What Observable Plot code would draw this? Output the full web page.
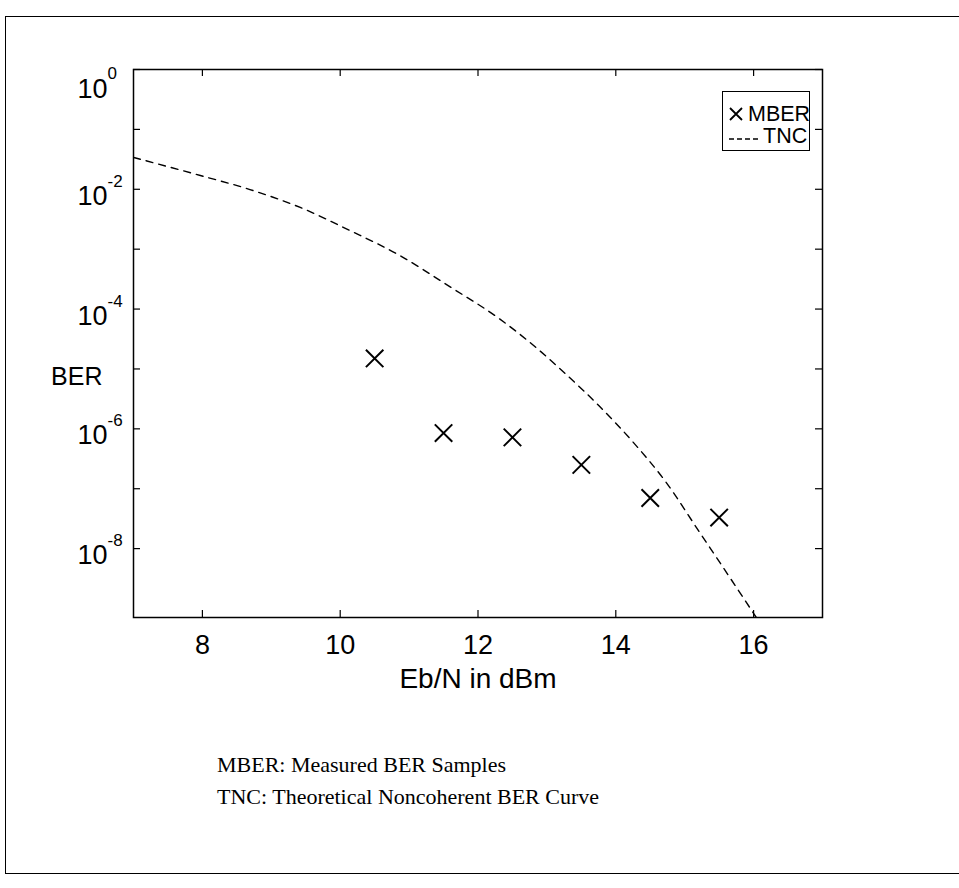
<!DOCTYPE html>
<html>
<head>
<meta charset="utf-8">
<script src="https://cdn.jsdelivr.net/npm/d3@7"></script>
<script src="https://cdn.jsdelivr.net/npm/@observablehq/plot@0.6"></script>
<style>
  html, body { margin: 0; padding: 0; background: #fff; }
  body { width: 959px; height: 888px; position: relative; overflow: hidden;
         font-family: "Liberation Sans", Arial, sans-serif; color: #000; }
  #outer { position: absolute; left: 5px; top: 16px; width: 980px; height: 856px;
           border-left: 1.5px solid #000; border-top: 1.5px solid #000; border-bottom: 1.5px solid #000; }
  #chart { position: absolute; left: 0; top: 0; }
  #legend { position: absolute; left: 722px; top: 91px; width: 86px; height: 58px;
            border: 1.5px solid #000; background: #fff; font-size: 21.5px; }
  #legend svg { position: absolute; left: 0; top: 0; }
  #legend .lab { position: absolute; line-height: 21px; white-space: nowrap; }
  #caption { position: absolute; left: 217px; top: 749px; font-family: "Liberation Serif", "Times New Roman", serif;
             font-size: 22px; line-height: 32px; }
</style>
</head>
<body>
<div id="outer"></div>
<div id="chart"></div>
<div id="legend">
  <svg width="86" height="58">
    <path d="M7,16 L19,28 M19,16 L7,28" stroke="#000" stroke-width="1.8" fill="none"/>
    <line x1="6" y1="47" x2="38" y2="47" stroke="#000" stroke-width="1.3" stroke-dasharray="5,3"/>
  </svg>
  <div class="lab" style="left:25px;top:12px">MBER</div>
  <div class="lab" style="left:40px;top:34px">TNC</div>
</div>
<div id="caption">MBER: Measured BER Samples<br>TNC: Theoretical Noncoherent BER Curve</div>
<script>
// ---- data ----
const xDomain = [7, 17];
const yDomain = [Math.pow(10, -9.15), 1];
const xTicks = [8, 10, 12, 14, 16];
const yLabelExponents = [0, -2, -4, -6, -8];
const yTickExponents = [0, -1, -2, -3, -4, -5, -6, -7, -8];

// Measured BER samples (MBER)
const mberX = [10.5, 11.5, 12.5, 13.5, 14.5, 15.5];
const mberY = [1.5e-5, 0.85e-6, 7.2e-7, 2.5e-7, 7.0e-8, 3.3e-8];

// Theoretical noncoherent BER curve (TNC)
const tncX = [7.0, 7.97, 8.69, 9.42, 10.14, 10.86, 11.59, 12.31, 12.79, 13.28, 13.76, 14.24, 14.73, 15.2, 15.64, 16.05];
const tncY = [0.034, 0.017, 0.0099, 0.00497, 0.00205, 7.9e-4, 2.37e-4, 6.9e-5, 2.56e-5, 8.1e-6, 2.4e-6, 6.2e-7, 1.28e-7, 2.0e-8, 3.5e-9, 6.8e-10];

const xLabel = "Eb/N in dBm";
const yLabel = "BER";

// ---- build ----
const mber = mberX.map((x, i) => ({x, y: mberY[i]}));
const tnc = tncX.map((x, i) => ({x, y: tncY[i]}));
const yLabelTicks = yLabelExponents.map(e => Math.pow(10, e));
const topLabel = yLabelTicks.filter(d => d === 1);
const otherLabels = yLabelTicks.filter(d => d !== 1);
const yTicks = yTickExponents.map(e => Math.pow(10, e));
const expText = d => String(Math.round(Math.log10(d)));

const W = 959, H = 720;
const L = 133, R = 822, T = 69, B = 617;
const plotW = R - L, plotH = B - T;
const tick = 7;

const chart = Plot.plot({
  width: W, height: H,
  marginLeft: L, marginRight: W - R, marginTop: T, marginBottom: H - B,
  style: { fontFamily: '"Liberation Sans", Arial, sans-serif', fontSize: "27px", color: "#000", background: "transparent", overflow: "visible" },
  x: { domain: xDomain },
  y: { type: "log", domain: yDomain, axis: null },
  marks: [
    Plot.line(tnc, { x: "x", y: "y", stroke: "#000", strokeWidth: 1.4, strokeDasharray: "7,6", curve: "monotone-x", clip: true }),
    Plot.dot(mber, { x: "x", y: "y", symbol: "times", r: 8, stroke: "#000", strokeWidth: 2 }),
    Plot.frame({ stroke: "#000", strokeWidth: 1.5 }),
    Plot.ruleX(xTicks, { x: d => d, insetTop: plotH - tick, stroke: "#000", strokeWidth: 1.2 }),
    Plot.ruleX(xTicks, { x: d => d, insetBottom: plotH - tick, stroke: "#000", strokeWidth: 1.2 }),
    Plot.ruleY(yTicks, { y: d => d, insetRight: plotW - tick, stroke: "#000", strokeWidth: 1.2 }),
    Plot.ruleY(yTicks, { y: d => d, insetLeft: plotW - tick, stroke: "#000", strokeWidth: 1.2 }),
    Plot.axisX({ ticks: xTicks, tickSize: 0, tickPadding: 17, label: null, fontSize: 27 }),
    // y tick labels: "10" with a raised exponent
    Plot.text(otherLabels, { y: d => d, frameAnchor: "left", text: () => "10", dx: -26, dy: 7, textAnchor: "end", fontSize: 27 }),
    Plot.text(otherLabels, { y: d => d, frameAnchor: "left", text: expText, dx: -26, dy: -8, textAnchor: "start", fontSize: 17 }),
    Plot.text(topLabel, { y: d => d, frameAnchor: "left", text: () => "10", dx: -26, dy: 20, textAnchor: "end", fontSize: 27 }),
    Plot.text(topLabel, { y: d => d, frameAnchor: "left", text: expText, dx: -26, dy: 4, textAnchor: "start", fontSize: 17 }),
    Plot.text([xLabel], { frameAnchor: "bottom", text: d => d, dy: 70, fontSize: 28 }),
    Plot.text([yLabel], { frameAnchor: "left", text: d => d, dx: -31, dy: 33, textAnchor: "end", fontSize: 25 })
  ]
});
document.getElementById("chart").appendChild(chart);
</script>
</body>
</html>
